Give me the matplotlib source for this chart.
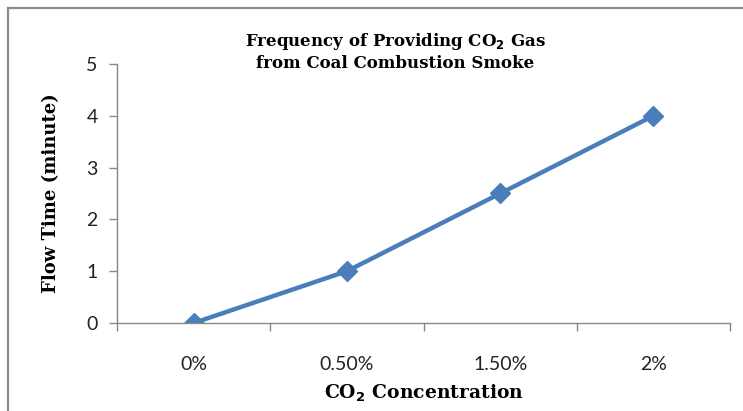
import numpy as np
import matplotlib.pyplot as plt
from matplotlib.lines import Line2D

# flow time for each CO2 level
categories = ['0%', '0.50%', '1.50%', '2%']
flow_time = [0, 1, 2.5, 4]

serif = ['DejaVu Serif']
sans = ['Lato', 'DejaVu Sans']

fig = plt.figure(figsize=(7.43, 4.11), dpi=100)
ax = fig.add_axes([117 / 743, 1 - 323 / 411, 613 / 743, 259 / 411])

x = np.arange(len(categories))
ax.plot(x, flow_time, '-', color='#4A7EBB', lw=3.2,
        marker='D', ms=10, mfc='#4A7EBB', mec='#4A7EBB')

ax.set_xlim(-0.5, len(categories) - 0.5)
ax.set_ylim(0, 5)
ax.set_yticks(np.arange(0, 6, 1))

# category ticks sit between the points
ax.set_xticks(np.arange(-0.5, len(categories), 1))
ax.set_xticklabels([])
ax.set_xticks(x, minor=True)
ax.set_xticklabels(categories, minor=True, family=sans, fontsize=14,
                   color='#222222')
ax.tick_params(axis='x', which='minor', length=0, pad=24)
ax.tick_params(axis='x', which='major', length=6, direction='out',
               color='#888888', width=1)
ax.tick_params(axis='y', length=6, direction='out', color='#888888',
               width=1, pad=8)
for lab in ax.get_yticklabels():
    lab.set_family(sans)
    lab.set_fontsize(14)
    lab.set_color('#222222')

for s in ['top', 'right']:
    ax.spines[s].set_visible(False)
for s in ['left', 'bottom']:
    ax.spines[s].set_color('#888888')
    ax.spines[s].set_linewidth(1)

ax.set_xlabel('CO$_\\mathbf{2}$ Concentration', family=serif,
              fontweight='bold', fontsize=13.5, labelpad=7)
ax.set_ylabel('Flow Time (minute)', family=serif, fontweight='bold',
              fontsize=13, labelpad=19)

fig.text(395 / 743, 1 - 42 / 411, 'Frequency of Providing CO$_\\mathbf{2}$ Gas',
         family=serif, fontweight='bold', fontsize=12, ha='center',
         va='center')
fig.text(395 / 743, 1 - 64 / 411, 'from Coal Combustion Smoke',
         family=serif, fontweight='bold', fontsize=12, ha='center',
         va='center')

# outer chart frame
fig.add_artist(Line2D([8 / 743, 8 / 743], [0, 1 - 8 / 411],
                      transform=fig.transFigure, color='#8c8c8c', lw=1.6))
fig.add_artist(Line2D([8 / 743, 1], [1 - 8 / 411, 1 - 8 / 411],
                      transform=fig.transFigure, color='#8c8c8c', lw=1.6))

fig.savefig('out.png', dpi=100)
